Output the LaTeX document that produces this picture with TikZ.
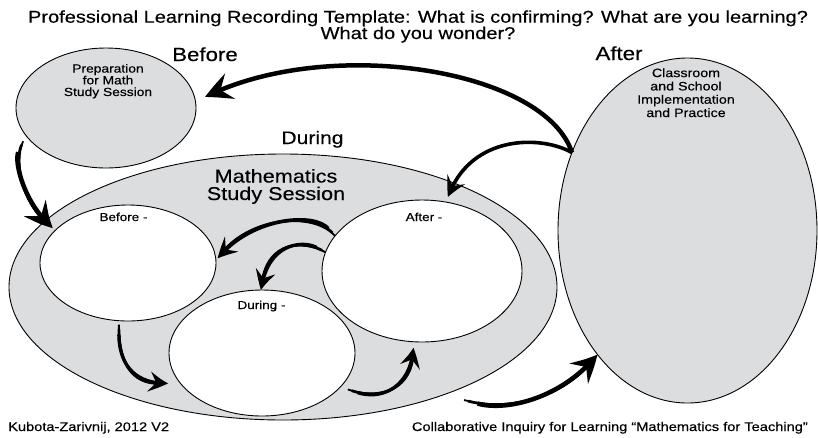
\documentclass[tikz,border=0pt]{standalone}
\usepackage{fontspec}
\setmainfont{Liberation Sans}
\newfontfamily\df[FakeStretch=1.17,FakeBold=0.35]{Liberation Sans}
\usetikzlibrary{shapes.geometric,arrows.meta,bending}
\definecolor{shade}{RGB}{220,221,223}
\begin{document}
\begin{tikzpicture}[x=1pt,y=-1pt,
  blob/.style={ellipse, draw, line width=0.9pt, inner sep=0pt, outer sep=0pt},
  grayblob/.style={blob, fill=shade},
  whiteblob/.style={blob, fill=white},
  lbl/.style={anchor=base, align=center, inner sep=0pt},
  bighead/.style={-{Stealth[length=27pt,width=27pt,inset=10pt,bend]}},
  smallhead/.style={-{Stealth[length=20pt,width=20pt,inset=8pt,bend]}},
  thinpart/.style={line width=1.8pt, shorten >=8pt},
  midpart/.style={line width=2.7pt, shorten <=4pt, shorten >=8pt},
]
\useasboundingbox (0,0) rectangle (818,437);

% ellipses
\node[grayblob, minimum width=180pt, minimum height=120pt] (prep) at (106,108) {};
\node[grayblob, minimum width=548pt, minimum height=266pt] (big) at (283,287) {};
\node[grayblob, minimum width=259pt, minimum height=345pt] (afterbig) at (687.5,230.5) {};
\node[whiteblob, minimum width=176pt, minimum height=116pt] (beforein) at (128,263) {};
\node[whiteblob, minimum width=186pt, minimum height=126pt] (duringin) at (262,353) {};
\node[whiteblob, minimum width=200pt, minimum height=142pt] (afterin) at (422,271) {};

% texts (anchor base = baseline of last line)
\node[lbl, font=\df\fontsize{17.1}{16.3}\selectfont] (title) at (418,39)
  {Professional Learning Recording Template: What is confirming? What are you learning?\\What do you wonder?};
\node[lbl, font=\df\fontsize{19}{20}\selectfont] (lbefore) at (205,61) {Before};
\node[lbl, font=\df\fontsize{19}{20}\selectfont] (lafter) at (619,60) {After};
\node[lbl, font=\df\fontsize{18}{20}\selectfont] (lduring) at (312.5,144) {During};
\node[lbl, font=\df\fontsize{11.8}{11.7}\selectfont] (tprep) at (108,96)
  {Preparation\\for Math\\Study Session};
\node[lbl, font=\df\fontsize{12.2}{13.3}\selectfont] (tclass) at (686,117)
  {Classroom\\and School\\Implementation\\and Practice};
\node[lbl, font=\df\fontsize{18.5}{17.5}\selectfont] (tmath) at (276,200)
  {Mathematics\\Study Session};
\node[lbl, font=\df\fontsize{11.5}{12}\selectfont] (tbin) at (123.5,221) {Before -};
\node[lbl, font=\df\fontsize{11.5}{12}\selectfont] (tdin) at (261.5,309) {During -};
\node[lbl, font=\df\fontsize{11.5}{12}\selectfont] (tain) at (424,221) {After -};
\node[lbl, anchor=base west, font=\df\fontsize{12.5}{13}\selectfont] (credit) at (8,431) {Kubota-Zarivnij, 2012 V2};
\node[lbl, anchor=base east, font=\df\fontsize{12.5}{13}\selectfont] (inquiry) at (808,431) {Collaborative Inquiry for Learning “Mathematics for Teaching”};

% arrows
% A1: After -> Preparation
\draw[line width=4.5pt, bighead] (afterbig.146) .. controls +(-27,-83) and +(125,-62) .. ([shift={(9pt,11pt)}]prep.east);
% A2: After -> After-
\draw[line width=3.6pt, smallhead] (afterbig.146) .. controls +(-32,-18) and +(22,-62) .. ([shift={(26pt,3pt)}]afterin.north);
% A3: Preparation -> big
\draw[thinpart] ([shift={(-7pt,-1pt)}]prep.203) .. controls +(-10,23) and +(-28,-23) .. ([shift={(44pt,59pt)}]big.west);
\draw[midpart] ([shift={(-7pt,-1pt)}]prep.203) .. controls +(-10,23) and +(-28,-23) .. ([shift={(44pt,59pt)}]big.west);
\draw[line width=4.5pt, shorten <=12pt, bighead] ([shift={(-7pt,-1pt)}]prep.203) .. controls +(-10,23) and +(-28,-23) .. ([shift={(44pt,59pt)}]big.west);
% A4: After- -> Before-
\draw[thinpart] (afterin.158) .. controls +(-23,-25) and +(32,-40) .. ([xshift=2pt]beforein.3);
\draw[midpart] (afterin.158) .. controls +(-23,-25) and +(32,-40) .. ([xshift=2pt]beforein.3);
\draw[line width=3.6pt, shorten <=10pt, smallhead] (afterin.158) .. controls +(-23,-25) and +(32,-40) .. ([xshift=2pt]beforein.3);
% A5: After- -> During-
\draw[thinpart] (afterin.169) .. controls +(-22,-12) and +(7,-49) .. ([xshift=-1pt]duringin.north);
\draw[midpart] (afterin.169) .. controls +(-22,-12) and +(7,-49) .. ([xshift=-1pt]duringin.north);
\draw[line width=3.3pt, shorten <=10pt, smallhead] (afterin.169) .. controls +(-22,-12) and +(7,-49) .. ([xshift=-1pt]duringin.north);
% A6: Before- -> During-
\draw[thinpart] ([yshift=-4pt]beforein.261) .. controls +(0,35) and +(-38,1) .. ([shift={(-10pt,-3pt)}]duringin.198);
\draw[midpart] ([yshift=-4pt]beforein.261) .. controls +(0,35) and +(-38,1) .. ([shift={(-10pt,-3pt)}]duringin.198);
\draw[line width=3.3pt, shorten <=10pt, smallhead] ([yshift=-4pt]beforein.261) .. controls +(0,35) and +(-38,1) .. ([shift={(-10pt,-3pt)}]duringin.198);
% A7: During- -> After-
\draw[thinpart] ([shift={(7pt,-3pt)}]duringin.-23) .. controls +(37,12) and +(-2,37) .. ([yshift=-6pt]afterin.263);
\draw[midpart] ([shift={(7pt,-3pt)}]duringin.-23) .. controls +(37,12) and +(-2,37) .. ([yshift=-6pt]afterin.263);
\draw[line width=3.3pt, shorten <=10pt, smallhead] ([shift={(7pt,-3pt)}]duringin.-23) .. controls +(37,12) and +(-2,37) .. ([yshift=-6pt]afterin.263);
% A8: big -> After
\draw[thinpart] ([shift={(13pt,-8pt)}]big.-32) .. controls +(45,12) and +(-35,43) .. (afterbig.234);
\draw[midpart] ([shift={(13pt,-8pt)}]big.-32) .. controls +(45,12) and +(-35,43) .. (afterbig.234);
\draw[line width=4.5pt, shorten <=14pt, bighead] ([shift={(13pt,-8pt)}]big.-32) .. controls +(45,12) and +(-35,43) .. (afterbig.234);
\end{tikzpicture}
\end{document}
